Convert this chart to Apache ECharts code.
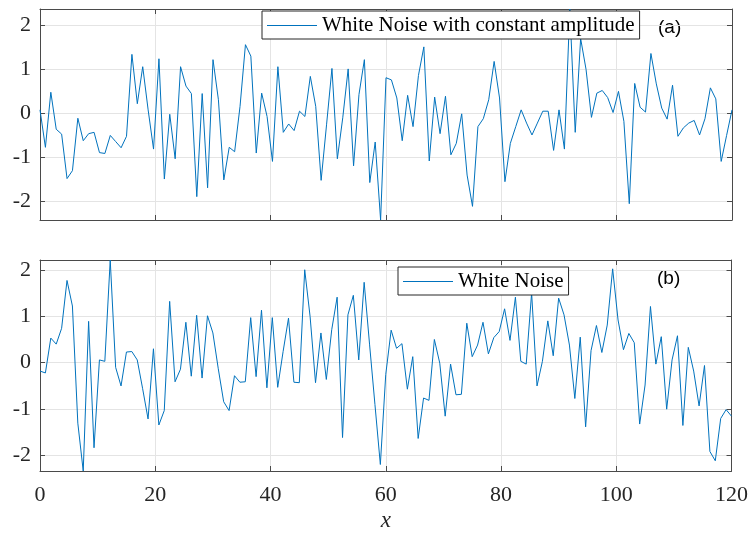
<!DOCTYPE html>
<html>
<head>
<meta charset="utf-8">
<script src="https://cdn.jsdelivr.net/npm/echarts@6/dist/echarts.min.js"></script>
<style>
html,body{margin:0;padding:0;background:#fff;}
#chart{width:751px;height:533px;}
</style>
</head>
<body>
<div id="chart"></div>
<script>
// ---- data ----
const xStart = 0;
const xEnd = 120;
const sampleCount = 129;
const xTicks = [0, 20, 40, 60, 80, 100, 120];
const yTicks = [-2, -1, 0, 1, 2];

const seriesAName = 'White Noise with constant amplitude';
const seriesA = [
  0.08,-0.77,0.48,-0.36,-0.47,-1.48,-1.30,-0.11,-0.62,-0.46,
  -0.43,-0.89,-0.91,-0.50,-0.64,-0.78,-0.52,1.34,0.22,1.06,
  0.08,-0.81,1.24,-1.49,-0.02,-1.03,1.06,0.62,0.45,-1.89,
  0.45,-1.69,1.22,0.31,-1.51,-0.77,-0.87,0.16,1.56,1.30,
  -0.90,0.46,-0.07,-1.09,1.06,-0.43,-0.24,-0.39,0.05,-0.07,
  0.84,0.16,-1.52,-0.26,1.02,-1.03,-0.10,1.01,-1.19,0.43,
  1.22,-1.57,-0.65,-2.42,0.81,0.76,0.35,-0.62,0.41,-0.30,
  0.86,1.51,-1.08,0.37,-0.46,0.39,-0.94,-0.68,-0.01,-1.40,
  -2.11,-0.30,-0.12,0.31,1.18,0.35,-1.55,-0.68,-0.30,0.08,
  -0.22,-0.49,-0.22,0.05,0.05,-0.84,0.08,-0.81,2.37,-0.43,
  1.70,1.00,-0.09,0.46,0.52,0.36,0.02,0.50,-0.18,-2.05,
  0.68,0.14,0.03,1.36,0.67,0.12,-0.13,0.64,-0.52,-0.33,
  -0.22,-0.16,-0.49,-0.12,0.58,0.33,-1.09,-0.50,0.08
];
const seriesAMin = -2.42, seriesAMax = 2.37;

const seriesBName = 'White Noise';
const seriesB = [
  -0.18,-0.22,0.53,0.40,0.74,1.77,1.22,-1.30,-2.33,0.89,
  -1.83,0.06,0.03,2.21,-0.10,-0.50,0.23,0.24,0.06,-0.56,
  -1.21,0.30,-1.34,-1.03,1.32,-0.41,-0.14,0.87,-0.29,1.02,
  -0.33,1.01,0.64,-0.13,-0.84,-1.03,-0.28,-0.42,-0.41,0.97,
  -0.30,1.13,-0.54,0.97,-0.53,0.24,0.96,-0.42,-0.43,2.00,
  0.99,-0.43,0.64,-0.36,0.71,1.41,-1.61,1.03,1.45,0.06,
  1.73,0.40,-0.90,-2.19,-0.25,0.70,0.31,0.41,-0.57,0.13,
  -1.63,-0.76,-0.81,0.50,-0.01,-1.15,-0.03,-0.69,-0.68,0.85,
  0.13,0.38,0.87,0.19,0.54,0.67,1.16,0.48,1.41,0.03,
  -0.03,1.50,-0.50,0.03,0.90,0.15,1.39,1.03,0.38,-0.77,
  0.55,-1.38,0.26,0.80,0.22,0.81,2.02,0.92,0.28,0.63,
  0.43,-1.32,-0.48,1.21,-0.03,0.56,-1.00,0.06,0.58,-1.35,
  0.33,-0.18,-0.93,-0.06,-1.91,-2.11,-1.20,-1.01,-1.15
];
const seriesBMin = -2.33, seriesBMax = 2.21;

const panelLabels = ['(a)', '(b)'];
const xLabel = 'x';

// ---- build ----
const step = (xEnd - xStart) / (sampleCount - 1);
const pairs = arr => arr.map((v, i) => [xStart + i * step, v]);

const serif = 'Liberation Serif';
const axisCol = '#4a4a4a';
const gridCol = '#e4e4e4';
const lineCol = '#0072BD';

function xAx(gridIndex, position, showLabels) {
  return {
    type: 'value', gridIndex, position, min: xStart, max: xEnd, interval: 20,
    axisLine: { show: true, onZero: false, lineStyle: { color: axisCol, width: 1 } },
    axisTick: { show: true, inside: true, length: 5, lineStyle: { color: axisCol } },
    axisLabel: { show: showLabels, fontFamily: serif, fontSize: 22, color: '#262626', margin: 13 },
    splitLine: { show: position === 'bottom', lineStyle: { color: gridCol, width: 1 } },
    name: (showLabels ? xLabel : ''), nameLocation: 'middle', nameGap: 38,
    nameTextStyle: { fontFamily: serif, fontStyle: 'italic', fontSize: 23, color: '#262626' }
  };
}
function yAx(gridIndex, position, mn, mx) {
  return {
    type: 'value', gridIndex, position, min: mn, max: mx,
    axisLine: { show: true, onZero: false, lineStyle: { color: axisCol, width: 1 } },
    axisTick: { show: true, inside: true, length: 5, lineStyle: { color: axisCol },
      customValues: yTicks },
    axisLabel: { show: position === 'left', fontFamily: serif, fontSize: 22, color: '#262626', margin: 9,
      customValues: yTicks, showMinLabel: true, showMaxLabel: true },
    splitLine: { show: position === 'left', lineStyle: { color: gridCol, width: 1 } },
    interval: 1
  };
}

const legendBase = {
  orient: 'horizontal', itemWidth: 50, itemHeight: 1, icon: 'rect',
  padding: [4, 5, 3, 5], borderColor: '#262626', borderWidth: 1, borderRadius: 0,
  backgroundColor: '#ffffff',
  textStyle: { fontFamily: serif, fontSize: 21, color: '#000', lineHeight: 21 }
};

const option = {
  animation: false,
  backgroundColor: '#ffffff',
  grid: [
    { left: 40, right: 19, top: 9, height: 211 },
    { left: 40, right: 19, top: 260, height: 211 }
  ],
  xAxis: [
    xAx(0, 'bottom', false), xAx(0, 'top', false),
    xAx(1, 'bottom', true), xAx(1, 'top', false)
  ],
  yAxis: [
    yAx(0, 'left', seriesAMin, seriesAMax), yAx(0, 'right', seriesAMin, seriesAMax),
    yAx(1, 'left', seriesBMin, seriesBMax), yAx(1, 'right', seriesBMin, seriesBMax)
  ],
  legend: [
    Object.assign({}, legendBase, { data: [seriesAName], left: 262, top: 11 }),
    Object.assign({}, legendBase, { data: [seriesBName], left: 398, top: 267 })
  ],
  graphic: [
    { type: 'text', left: 658, top: 18, style: { text: panelLabels[0], font: '19px "Liberation Sans", Arial, sans-serif', fill: '#000' } },
    { type: 'text', left: 657, top: 269, style: { text: panelLabels[1], font: '19px "Liberation Sans", Arial, sans-serif', fill: '#000' } }
  ],
  series: [
    { name: seriesAName, type: 'line', xAxisIndex: 0, yAxisIndex: 0, data: pairs(seriesA),
      symbol: 'none', showSymbol: false, lineStyle: { color: lineCol, width: 1 }, itemStyle: { color: lineCol } },
    { name: seriesBName, type: 'line', xAxisIndex: 2, yAxisIndex: 2, data: pairs(seriesB),
      symbol: 'none', showSymbol: false, lineStyle: { color: lineCol, width: 1 }, itemStyle: { color: lineCol } }
  ]
};

const chart = echarts.init(document.getElementById('chart'), null, { renderer: 'canvas' });
chart.setOption(option);
</script>
</body>
</html>
